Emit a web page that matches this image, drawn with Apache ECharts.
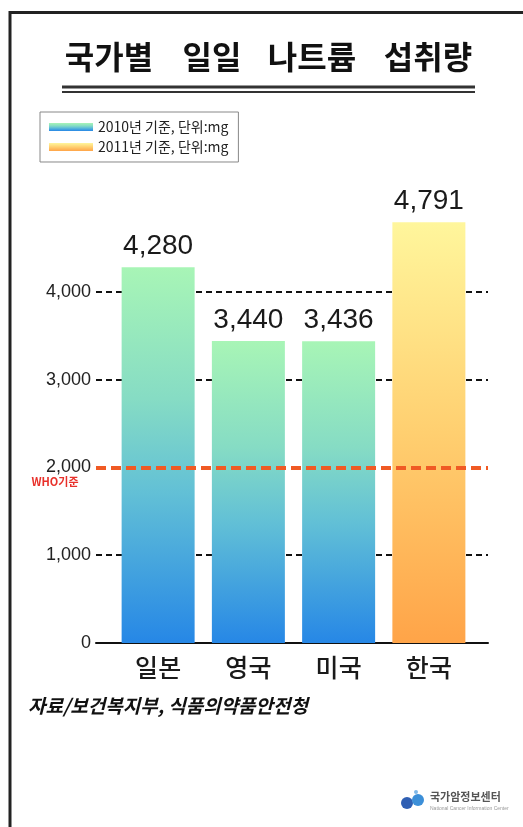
<!DOCTYPE html>
<html>
<head>
<meta charset="utf-8">
<script src="https://cdn.jsdelivr.net/npm/echarts@6/dist/echarts.min.js"></script>
<style>html,body{margin:0;padding:0;background:#fff;}#c{width:523px;height:827px;}</style>
</head>
<body>
<div id="c"></div>
<script>
const categories = ['일본', '영국', '미국', '한국'];
const series2010 = [4280, 3440, 3436, null];
const series2011 = [null, null, null, 4791];
const seriesNames = ['2010년 기준, 단위:mg', '2011년 기준, 단위:mg'];
const yTicks = [0, 1000, 2000, 3000, 4000];
const whoLevel = 2000;

const KR = "'Noto Sans CJK KR', 'Noto Sans', sans-serif";
const NUM = "'Liberation Sans', Arial, sans-serif";

const chart = echarts.init(document.getElementById('c'));
const fmt = v => v.toLocaleString('en-US');

const grad2010 = new echarts.graphic.LinearGradient(0, 0, 0, 1, [
  {offset: 0, color: '#a8f5b6'},
  {offset: 0.35, color: '#86dcc4'},
  {offset: 0.6, color: '#62c0d6'},
  {offset: 1, color: '#2687e6'}
]);
const grad2011 = new echarts.graphic.LinearGradient(0, 0, 0, 1, [
  {offset: 0, color: '#fff69c'},
  {offset: 0.5, color: '#ffcf70'},
  {offset: 1, color: '#ffa448'}
]);

const labelStyle = {show: true, position: 'top', distance: 7, fontFamily: NUM, fontSize: 28, color: '#1a1a1a', formatter: p => fmt(p.value)};

chart.setOption({
  animation: false,
  backgroundColor: '#fff',
  legend: {
    orient: 'vertical', left: 40, top: 112,
    data: seriesNames,
    icon: 'rect', itemWidth: 44, itemHeight: 8, itemGap: 6,
    padding: [8, 10, 8, 9],
    borderColor: '#888', borderWidth: 1, backgroundColor: '#fff',
    textStyle: {fontFamily: KR, fontSize: 14, color: '#222'}
  },
  grid: [
    {left: 113, right: 49, top: 204, bottom: 184},
    {left: 96, right: 35, top: 204, bottom: 184}
  ],
  xAxis: [
    {type: 'category', gridIndex: 0, data: categories,
     axisLine: {show: false}, axisTick: {show: false},
     axisLabel: {margin: 12, fontFamily: KR, fontSize: 25, color: '#1a1a1a', fontWeight: 500}},
    {type: 'value', gridIndex: 1, min: 0, max: 1, show: true,
     axisLine: {show: true, onZero: false, lineStyle: {color: '#111', width: 2}},
     axisTick: {show: false}, axisLabel: {show: false}, splitLine: {show: false}}
  ],
  yAxis: [
    {type: 'value', gridIndex: 0, min: 0, max: 5000, show: false},
    {type: 'value', gridIndex: 1, min: 0, max: 5000, interval: 1000,
     axisLine: {show: false}, axisTick: {show: false},
     axisLabel: {margin: 5, fontFamily: NUM, fontSize: 18, color: '#222',
       formatter: v => yTicks.indexOf(v) >= 0 ? fmt(v) : ''},
     splitLine: {show: true, lineStyle: {
       color: ['transparent', '#111', 'transparent', '#111', '#111', 'transparent'],
       type: [6, 4], width: 2}}}
  ],
  series: [
    {name: seriesNames[0], type: 'bar', xAxisIndex: 0, yAxisIndex: 0, data: series2010,
     barWidth: 73, barGap: '-100%', itemStyle: {color: grad2010}, label: labelStyle, z: 3},
    {name: seriesNames[1], type: 'bar', xAxisIndex: 0, yAxisIndex: 0, data: series2011,
     barWidth: 73, barGap: '-100%', itemStyle: {color: grad2011}, label: labelStyle, z: 3},
    {type: 'line', xAxisIndex: 1, yAxisIndex: 1, data: [], z: 4,
     markLine: {silent: true, symbol: 'none', label: {show: false},
       lineStyle: {color: '#f05a24', type: [10, 5], width: 4},
       data: [{yAxis: whoLevel}]}}
  ],
  graphic: [
    {type: 'polyline', shape: {points: [[10, 827], [10, 12.5], [523, 12.5]]}, style: {stroke: '#222', lineWidth: 3, fill: null}},
    {type: 'text', x: 109, y: 57, style: {text: '국가별', font: "bold 32px " + KR, fill: '#111', align: 'center', verticalAlign: 'middle'}},
    {type: 'text', x: 212, y: 57, style: {text: '일일', font: "bold 32px " + KR, fill: '#111', align: 'center', verticalAlign: 'middle'}},
    {type: 'text', x: 312, y: 57, style: {text: '나트륨', font: "bold 32px " + KR, fill: '#111', align: 'center', verticalAlign: 'middle'}},
    {type: 'text', x: 428, y: 57, style: {text: '섭취량', font: "bold 32px " + KR, fill: '#111', align: 'center', verticalAlign: 'middle'}},
    {type: 'line', shape: {x1: 62, y1: 87, x2: 475, y2: 87}, style: {stroke: '#333', lineWidth: 3}},
    {type: 'line', shape: {x1: 62, y1: 92, x2: 475, y2: 92}, style: {stroke: '#333', lineWidth: 2}},
    {type: 'text', x: 55, y: 482, style: {text: 'WHO기준', font: "bold 11px " + KR, fill: '#e8302a', align: 'center', verticalAlign: 'middle'}},
    {type: 'text', x: 28, y: 706, style: {text: '자료/보건복지부, 식품의약품안전청', font: "italic bold 19px " + KR, fill: '#111', verticalAlign: 'middle'}},
    {type: 'circle', shape: {cx: 407, cy: 803, r: 6}, style: {fill: '#2f5fb3'}},
    {type: 'circle', shape: {cx: 418, cy: 800, r: 6}, style: {fill: '#3c8fd8'}},
    {type: 'circle', shape: {cx: 416, cy: 792, r: 2}, style: {fill: '#7fb8e8'}},
    {type: 'text', x: 430, y: 797, style: {text: '국가암정보센터', font: "bold 11px " + KR, fill: '#555', verticalAlign: 'middle'}},
    {type: 'text', x: 430, y: 809, style: {text: 'National Cancer Information Center', font: "5px 'Liberation Sans', sans-serif", fill: '#999', verticalAlign: 'middle'}}
  ]
});
</script>
</body>
</html>
